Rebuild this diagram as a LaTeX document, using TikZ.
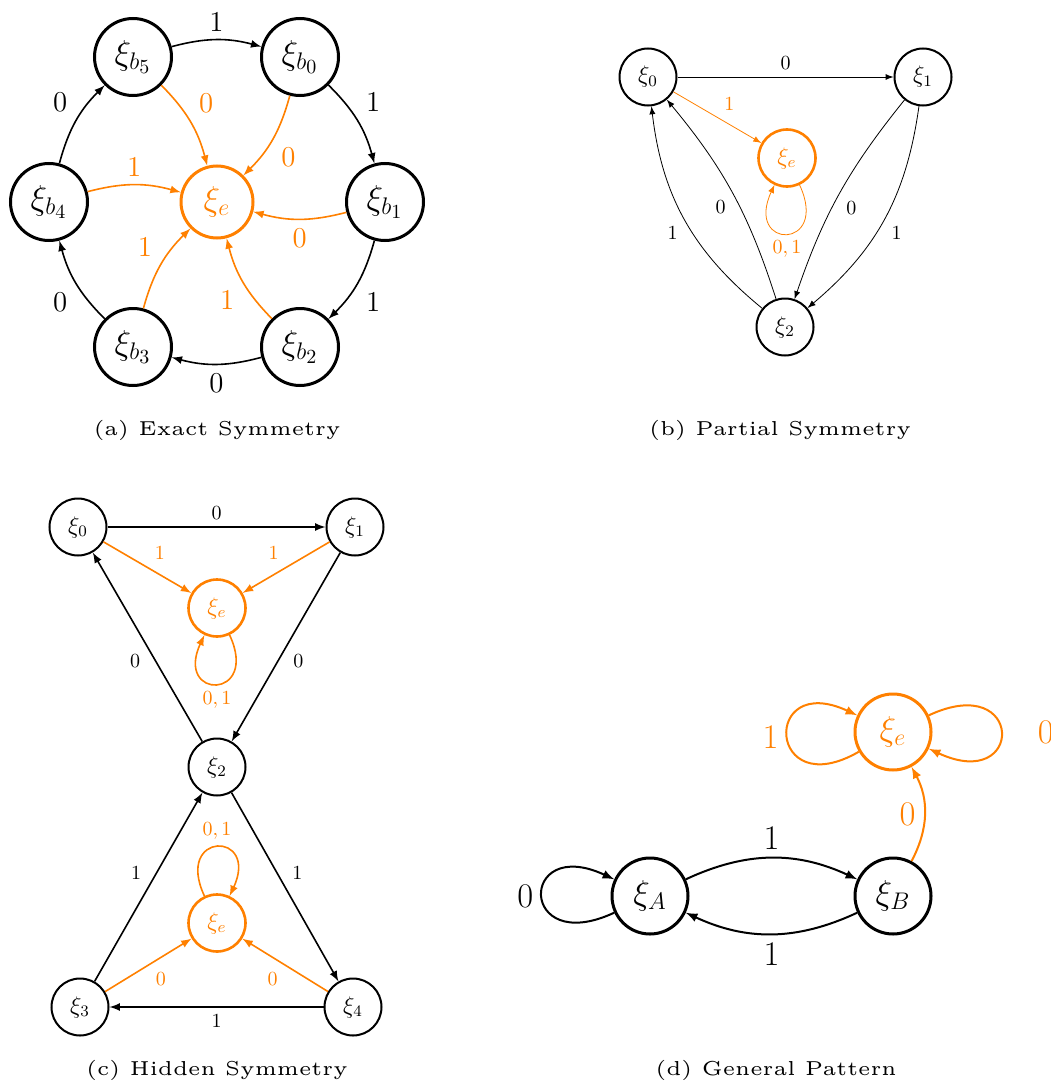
\documentclass[tikz,border=0pt]{standalone}
\usetikzlibrary{arrows,positioning}

\newcommand{\subcap}[1]{\scalebox{2.02}{\fontsize{5}{6}\selectfont #1}}

\begin{document}
\begin{tikzpicture}[x=0.5pt,y=0.5pt,>=latex,
  bigstate/.style={draw,circle,line width=1.5pt,minimum size=38.5pt,inner sep=0pt,font=\LARGE},
  smallstate/.style={draw,circle,line width=1pt,minimum size=28.5pt,inner sep=0pt,font=\large},
  sink/.style={draw=orange,text=orange},
  oedge/.style={draw=orange,text=orange}]
\useasboundingbox (0,0) rectangle (1050,-1081);

% (a) exact symmetry
\node[bigstate] (b5) at (133,-57) {$\xi_{b_5}$};
\node[bigstate] (b0) at (300,-57) {$\xi_{b_0}$};
\node[bigstate] (b1) at (385,-202) {$\xi_{b_1}$};
\node[bigstate] (b2) at (300,-347) {$\xi_{b_2}$};
\node[bigstate] (b3) at (133,-347) {$\xi_{b_3}$};
\node[bigstate] (b4) at (49,-202) {$\xi_{b_4}$};
\node[bigstate,sink,minimum size=36pt] (ae) at (217,-202) {$\xi_e$};
\path[->,line width=0.8pt,font=\Large,bend left=15,every node/.style={auto,inner sep=4pt}]
  (b5) edge node {1} (b0)
  (b0) edge node {1} (b1)
  (b1) edge node {1} (b2)
  (b2) edge node {0} (b3)
  (b3) edge node {0} (b4)
  (b4) edge node {0} (b5)
  (b5) edge[oedge] node {0} (ae)
  (b0) edge[oedge] node {0} (ae)
  (b1) edge[oedge] node {0} (ae)
  (b2) edge[oedge] node {1} (ae)
  (b3) edge[oedge] node {1} (ae)
  (b4) edge[oedge] node {1} (ae);
\node (capa) at (217,-430) {\subcap{(a) Exact Symmetry}};

% (b) partial symmetry
\node[smallstate] (p0) at (648,-77) {$\xi_0$};
\node[smallstate] (p1) at (923,-77) {$\xi_1$};
\node[smallstate,sink,line width=1.3pt] (pe) at (787,-158) {$\xi_e$};
\node[smallstate] (p2) at (785,-327) {$\xi_2$};
\path[->,thin,every node/.style={auto}]
  (p0) edge node {0} (p1)
  (p0) edge[oedge] node {1} (pe)
  (pe) edge[oedge,out=-65,in=-115,distance=36pt] node {$0,1$} (pe)
  (p2) edge[bend left=22] node {1} (p0)
  (p2) edge[bend right=11] node {0} (p0)
  (p1) edge[bend right=10] node {0} (p2)
  (p1) edge[bend left=21] node {1} (p2);
\node (capb) at (780,-430) {\subcap{(b) Partial Symmetry}};

% (c) hidden symmetry
\node[smallstate] (c0) at (78,-527) {$\xi_0$};
\node[smallstate] (c1) at (355,-527) {$\xi_1$};
\node[smallstate,sink,line width=1.3pt] (ce) at (217,-608) {$\xi_e$};
\node[smallstate] (c2) at (217,-767) {$\xi_2$};
\node[smallstate,sink,line width=1.3pt] (cf) at (217,-923) {$\xi_e$};
\node[smallstate] (c3) at (80,-1007) {$\xi_3$};
\node[smallstate] (c4) at (353,-1007) {$\xi_4$};
\path[->,line width=0.8pt,every node/.style={auto}]
  (c0) edge node {0} (c1)
  (c0) edge[oedge] node {1} (ce)
  (c1) edge[oedge] node[swap] {1} (ce)
  (ce) edge[oedge,out=-65,in=-115,distance=36pt] node {$0,1$} (ce)
  (c1) edge node {0} (c2)
  (c2) edge node {0} (c0)
  (c2) edge node {1} (c4)
  (c4) edge node {1} (c3)
  (c3) edge node {1} (c2)
  (c3) edge[oedge] node[swap] {0} (cf)
  (c4) edge[oedge] node {0} (cf)
  (cf) edge[oedge,out=115,in=65,distance=36pt] node {$0,1$} (cf);
\node (capc) at (217,-1070) {\subcap{(c) Hidden Symmetry}};

% (d) general pattern
\node[bigstate,minimum size=38pt] (dA) at (650,-896) {$\xi_A$};
\node[bigstate,minimum size=38pt] (dB) at (893,-896) {$\xi_B$};
\node[bigstate,sink,minimum size=38pt] (de) at (893,-732) {$\xi_e$};
\path[->,line width=1pt,font=\LARGE,every node/.style={auto,inner sep=4pt}]
  (dA) edge[bend left=25] node {1} (dB)
  (dB) edge[bend left=25] node {1} (dA)
  (dA) edge[out=-155,in=155,distance=53pt] node {0} (dA)
  (dB) edge[oedge,bend right=28] node {0} (de)
  (de) edge[oedge,out=-150,in=155,distance=53pt] node {1} (de)
  (de) edge[oedge,out=25,in=-25,distance=53pt] node[xshift=14pt] {0} (de);
\node (capd) at (776,-1070) {\subcap{(d) General Pattern}};
\end{tikzpicture}
\end{document}
